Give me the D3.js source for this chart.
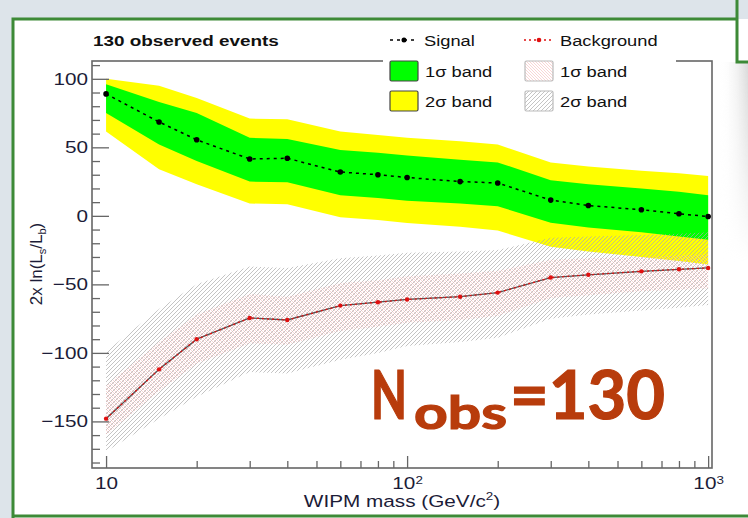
<!DOCTYPE html>
<html>
<head>
<meta charset="utf-8">
<script src="https://cdn.jsdelivr.net/npm/d3@7"></script>
<style>
  body { margin: 0; background: #fff; }
  svg { display: block; font-family: "Liberation Sans", Arial, sans-serif; }
</style>
</head>
<body>
<div id="chart"></div>
<script>
// WIPM mass points (GeV/c^2)
const masses = [10, 15, 20, 30, 40, 60, 80, 100, 150, 200, 300, 400, 600, 800, 1000];

// signal hypothesis: median and bands
const signal = [89, 68.5, 55.5, 41.5, 42, 32, 30, 28, 25, 24, 11.5, 7.5, 4.5, 1.5, -0.5];
const sig1Up = [96, 83, 75, 57, 56, 48, 46, 44, 41, 39, 26, 23, 20, 17.5, 15];
const sig1Lo = [75, 52, 40, 25, 24.5, 15, 13, 11, 9, 7, -5, -8.5, -12, -15, -17.5];
const sig2Up = [100, 95, 86, 71, 70.5, 61.5, 59, 57, 54.5, 52, 39, 36, 33, 31, 29];
const sig2Lo = [61.5, 34, 23, 9, 8.5, -1, -3, -5.3, -8, -10.7, -22.5, -26, -30, -33, -35.5];

// background-only hypothesis: median and bands
const background = [-148, -112, -90, -74.5, -76, -65.5, -63, -61, -59, -56, -45, -43, -40.5, -39, -38];
const bkg1Up = [-124, -92, -72, -57, -59, -49, -47, -44, -42, -40, -32, -31, -30, -29, -28];
const bkg1Lo = [-160, -128, -108, -93, -94, -84, -81, -78, -76, -73, -60, -58, -55, -54, -53];
const bkg2Up = [-99, -68, -50, -37, -38, -31, -29, -27, -26, -25, -16, -15, -14, -13, -12];
const bkg2Lo = [-172, -148, -132, -114, -115, -105, -100, -95, -92, -89, -75, -72, -69, -67, -65];

// axis ticks
const yMajorTicks = [-150, -100, -50, 0, 50, 100];
const yMinorTicks = [-180, -170, -160, -140, -130, -120, -110, -90, -80, -70, -60, -40, -30, -20, -10,
                     10, 20, 30, 40, 60, 70, 80, 90, 110];
const xMajorTicks = [10, 100, 1000];
const xTickBase = ["10", "10", "10"];
const xTickExp = ["", "2", "3"];
const xMinorTicks = [20, 30, 40, 50, 60, 70, 80, 90, 200, 300, 400, 500, 600, 700, 800, 900];

const W = 748, H = 518;
const SX = 1.22; // the reference is stretched sideways
const plot = { left: 92, right: 712, top: 61, bottom: 468 };
const textCol = "#1c1c38";

const svg = d3.select("#chart").append("svg")
  .attr("width", W)
  .attr("height", H);

const defs = svg.append("defs");

// page backdrop + green frame
svg.append("rect").attr("width", W).attr("height", H).attr("fill", "#dde4ea");
svg.append("rect").attr("x", 12).attr("y", 19).attr("width", W - 12).attr("height", H - 19).attr("fill", "#fff");
const shade = defs.append("linearGradient").attr("id", "shade");
shade.append("stop").attr("offset", "0%").attr("stop-color", "#fff").attr("stop-opacity", 0);
shade.append("stop").attr("offset", "100%").attr("stop-color", "#d9d9d9").attr("stop-opacity", 1);
const fade = defs.append("linearGradient").attr("id", "fade").attr("x1", 0).attr("x2", 0).attr("y1", 0).attr("y2", 1);
fade.append("stop").attr("offset", "0%").attr("stop-color", "#fff").attr("stop-opacity", 1);
fade.append("stop").attr("offset", "100%").attr("stop-color", "#fff").attr("stop-opacity", 0);
defs.append("mask").attr("id", "fadeMask")
  .append("rect").attr("x", 720).attr("y", 62).attr("width", 28).attr("height", 200).attr("fill", "url(#fade)");
svg.append("rect").attr("x", 720).attr("y", 62).attr("width", 28).attr("height", 200)
  .attr("fill", "url(#shade)").attr("mask", "url(#fadeMask)");

const green = "#3d8a37";
svg.append("path")
  .attr("d", "M13,518 L13,19 L737,19 M737,0 L737,62 L748,62 M13,516 L748,516")
  .attr("fill", "none").attr("stroke", green).attr("stroke-width", 3);

// hatch patterns
defs.append("pattern")
  .attr("id", "hatchGray").attr("patternUnits", "userSpaceOnUse")
  .attr("width", 4).attr("height", 4)
  .append("path").attr("d", "M-1,1 l2,-2 M0,4 l4,-4 M3,5 l2,-2")
  .attr("stroke", "#ababab").attr("stroke-width", 0.7);
defs.append("pattern")
  .attr("id", "hatchPink").attr("patternUnits", "userSpaceOnUse")
  .attr("width", 3).attr("height", 3)
  .append("path").attr("d", "M-1,2 l2,2 M0,0 l3,3 M2,-1 l2,2")
  .attr("stroke", "#f5b8b8").attr("stroke-width", 0.6);

// scales
const x = d3.scaleLog().domain([8.98, 1030]).range([plot.left, plot.right]);
const y = d3.scaleLinear().domain([-184, 113]).range([plot.bottom, plot.top]);

const band = (lo, hi) => d3.area()
  .x((d, i) => x(masses[i]))
  .y0((d, i) => y(lo[i]))
  .y1((d, i) => y(hi[i]));

const idx = masses.map((m, i) => i);

// signal bands
svg.append("path").attr("d", band(sig2Lo, sig2Up)(idx)).attr("fill", "#ffff00");
svg.append("path").attr("d", band(sig1Lo, sig1Up)(idx)).attr("fill", "#00ff00");

// background bands (hatched)
svg.append("path").attr("d", band(bkg2Lo, bkg2Up)(idx)).attr("fill", "url(#hatchGray)");
svg.append("path").attr("d", band(bkg1Lo, bkg1Up)(idx)).attr("fill", "url(#hatchPink)");

// background line
const line = d3.line().x((d, i) => x(masses[i])).y(d => y(d));
svg.append("path").attr("d", line(background))
  .attr("fill", "none").attr("stroke", "#555").attr("stroke-width", 1.3);
svg.append("path").attr("d", line(background))
  .attr("fill", "none").attr("stroke", "#e01010").attr("stroke-width", 1.3)
  .attr("stroke-dasharray", "2,3");
svg.append("g").selectAll("circle").data(background).join("circle")
  .attr("cx", (d, i) => x(masses[i])).attr("cy", d => y(d))
  .attr("r", 2.2).attr("fill", "#e01010");

// signal line
svg.append("path").attr("d", line(signal))
  .attr("fill", "none").attr("stroke", "#000").attr("stroke-width", 1.5)
  .attr("stroke-dasharray", "3,4");
svg.append("g").selectAll("circle").data(signal).join("circle")
  .attr("cx", (d, i) => x(masses[i])).attr("cy", d => y(d))
  .attr("r", 2.8).attr("fill", "#000");

// frame
svg.append("rect")
  .attr("x", plot.left).attr("y", plot.top)
  .attr("width", plot.right - plot.left).attr("height", plot.bottom - plot.top)
  .attr("fill", "none").attr("stroke", "#666").attr("stroke-width", 1.6);

// stretch text sideways about its own x
function stretch(sel) {
  sel.each(function() {
    const t = d3.select(this);
    const tx = +t.attr("x") || 0;
    t.attr("x", tx / SX).attr("transform", `scale(${SX},1)`);
  });
}

// y axis
const yAxis = svg.append("g")
  .attr("transform", `translate(${plot.left},0)`)
  .call(d3.axisLeft(y).tickValues(yMajorTicks).tickSize(-17).tickPadding(4)
    .tickFormat(d => d < 0 ? "\u2212" + Math.abs(d) : d));
svg.append("g")
  .attr("transform", `translate(${plot.left},0)`)
  .call(d3.axisLeft(y).tickValues(yMinorTicks).tickSize(-8).tickFormat(""));

// x axis
const xAxis = svg.append("g")
  .attr("transform", `translate(0,${plot.bottom})`)
  .call(d3.axisBottom(x).tickValues(xMajorTicks).tickSize(-12).tickPadding(9).tickFormat(""));
svg.append("g")
  .attr("transform", `translate(0,${plot.bottom})`)
  .call(d3.axisBottom(x).tickValues(xMinorTicks).tickSize(-7).tickFormat(""));

svg.selectAll(".domain").remove();
svg.selectAll(".tick line").attr("stroke", "#666").attr("stroke-width", 1.3);

yAxis.selectAll("text").attr("font-size", 17).attr("fill", textCol).call(stretch);

xAxis.selectAll(".tick text").each(function(d, i) {
  const t = d3.select(this).text(null).attr("font-size", 17).attr("fill", textCol);
  t.append("tspan").text(xTickBase[i]);
  if (xTickExp[i]) t.append("tspan").attr("dy", "-0.5em").attr("font-size", 11).text(xTickExp[i]);
}).call(stretch);

// axis titles
const xt = svg.append("g").attr("transform", `translate(402,507)`)
  .append("text").attr("text-anchor", "middle").attr("font-size", 17).attr("fill", textCol)
  .attr("transform", `scale(${SX},1)`);
xt.append("tspan").text("WIPM mass (GeV/c");
xt.append("tspan").attr("dy", -7).attr("font-size", 11).text("2");
xt.append("tspan").attr("dy", 7).text(")");

const yt = svg.append("g").attr("transform", `translate(42,264) rotate(-90)`)
  .append("text").attr("text-anchor", "middle").attr("font-size", 17).attr("fill", textCol);
yt.append("tspan").text("2x ln(L");
yt.append("tspan").attr("dy", 4).attr("font-size", 11).text("s");
yt.append("tspan").attr("dy", -4).text("/L");
yt.append("tspan").attr("dy", 4).attr("font-size", 11).text("b");
yt.append("tspan").attr("dy", -4).text(")");

// legend
svg.append("rect").attr("x", 383).attr("y", 50).attr("width", 293).attr("height", 66).attr("fill", "#fff");

function label(px, py, str, opts = {}) {
  return svg.append("g").attr("transform", `translate(${px},${py})`)
    .append("text").attr("font-size", opts.size || 15)
    .attr("font-weight", opts.bold ? "bold" : null)
    .attr("fill", "#111")
    .attr("transform", `scale(${SX},1)`)
    .text(str);
}

label(93, 46, "130 observed events", { bold: true, size: 15.5 });

// signal entry
svg.append("line").attr("x1", 390).attr("x2", 418).attr("y1", 40).attr("y2", 40)
  .attr("stroke", "#000").attr("stroke-width", 1.5).attr("stroke-dasharray", "3,4");
svg.append("circle").attr("cx", 404).attr("cy", 40).attr("r", 2.5).attr("fill", "#000");
label(424, 46, "Signal");

// background entry
svg.append("line").attr("x1", 524).attr("x2", 554).attr("y1", 40).attr("y2", 40)
  .attr("stroke", "#e01010").attr("stroke-width", 1.5).attr("stroke-dasharray", "2,3");
svg.append("circle").attr("cx", 539).attr("cy", 40).attr("r", 2.3).attr("fill", "#e01010");
label(560, 46, "Background");

const boxes = [
  { bx: 390, by: 61, fill: "#00ff00", stroke: "#444", text: "1\u03c3 band" },
  { bx: 390, by: 91, fill: "#ffff00", stroke: "#444", text: "2\u03c3 band" },
  { bx: 525, by: 61, fill: "url(#hatchPink)", stroke: "#bbb", text: "1\u03c3 band" },
  { bx: 525, by: 91, fill: "url(#hatchGray)", stroke: "#bbb", text: "2\u03c3 band" }
];
boxes.forEach(b => {
  svg.append("rect").attr("x", b.bx).attr("y", b.by).attr("width", 28).attr("height", 20)
    .attr("fill", b.fill).attr("stroke", b.stroke).attr("stroke-width", 1.2).attr("rx", 1.5);
  label(b.bx + 35, b.by + 15.5, b.text);
});

// N_obs annotation
const nCol = "#b83c0c";
const nFont = "Lato, 'Open Sans', sans-serif";
function big(px, py, size, len, str) {
  svg.append("text").attr("x", px).attr("y", py)
    .attr("font-family", nFont).attr("font-weight", 700)
    .attr("font-size", size).attr("fill", nCol)
    .attr("stroke", nCol).attr("stroke-width", 1.2)
    .attr("textLength", len).attr("lengthAdjust", "spacingAndGlyphs")
    .text(str);
}
big(371, 419, 66, 36, "N");
big(414, 429, 46, 93, "obs");
big(510, 419, 66, 155, "=130");
</script>
</body>
</html>
